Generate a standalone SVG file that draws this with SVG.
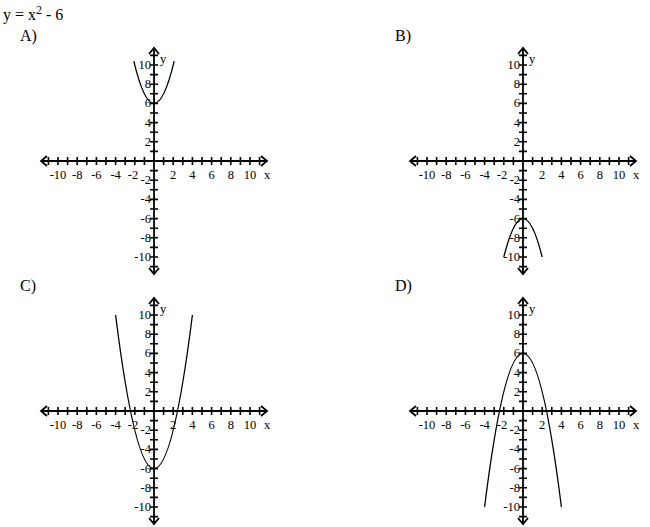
<svg xmlns="http://www.w3.org/2000/svg" xmlns:xlink="http://www.w3.org/1999/xlink" width="650" height="527" viewBox="0 0 650 527">
<style>
text{font-family:"Liberation Serif",serif;fill:#000}
.t{font-size:16px}
.n{font-size:12.5px}
.ax{stroke:#000;stroke-width:1.8;fill:none}
.tk{stroke:#000;stroke-width:1.6;fill:none}
.c{stroke:#000;stroke-width:1.3;fill:none}
</style>
<defs>
<g id="axes">
<path class="ax" d="M-113 0H113M-107 -5L-113 0L-107 5M107 -5L113 0L107 5M0 -113V113M-5 -107L0 -113L5 -107M-5 107L0 113L5 107"/>
<path class="tk" d="M-105.6 -4v8M-96 -4v8M-86.4 -4v8M-76.8 -4v8M-67.2 -4v8M-57.6 -4v8M-48 -4v8M-38.4 -4v8M-28.8 -4v8M-19.2 -4v8M-9.6 -4v8M9.6 -4v8M19.2 -4v8M28.8 -4v8M38.4 -4v8M48 -4v8M57.6 -4v8M67.2 -4v8M76.8 -4v8M86.4 -4v8M96 -4v8M105.6 -4v8M-4 -105.6h8M-4 -96h8M-4 -86.4h8M-4 -76.8h8M-4 -67.2h8M-4 -57.6h8M-4 -48h8M-4 -38.4h8M-4 -28.8h8M-4 -19.2h8M-4 -9.6h8M-4 9.6h8M-4 19.2h8M-4 28.8h8M-4 38.4h8M-4 48h8M-4 57.6h8M-4 67.2h8M-4 76.8h8M-4 86.4h8M-4 96h8M-4 105.6h8"/>
<g class="n" text-anchor="middle">
<text x="-96" y="18">-10</text><text x="-76.8" y="18">-8</text><text x="-57.6" y="18">-6</text><text x="-38.4" y="18">-4</text><text x="-21" y="18">-2</text>
<text x="19.2" y="18">2</text><text x="38.4" y="18">4</text><text x="57.6" y="18">6</text><text x="76.8" y="18">8</text><text x="96" y="18">10</text>
</g>
<g class="n" text-anchor="end">
<text x="-3" y="-92">10</text><text x="-3" y="-72.8">8</text><text x="-3" y="-53.6">6</text><text x="-3" y="-34.4">4</text><text x="-3" y="-15.2">2</text>
<text x="-3" y="23.2">-2</text><text x="-3" y="42.4">-4</text><text x="-3" y="61.6">-6</text><text x="-3" y="80.8">-8</text><text x="-3" y="100">-10</text>
</g>
<text class="n" x="6" y="-98">y</text>
<text class="n" x="110" y="18">x</text>
</g>
</defs>
<text class="t" x="3" y="20">y = x<tspan dy="-6" font-size="12">2</tspan><tspan dy="6"> - 6</tspan></text>
<g id="graphA"><text class="t" x="20" y="41">A)</text><use xlink:href="#axes" transform="translate(154,161)"/></g>
<g id="graphB"><text class="t" x="395" y="41">B)</text><use xlink:href="#axes" transform="translate(523,161)"/></g>
<g id="graphC"><text class="t" x="20" y="291">C)</text><use xlink:href="#axes" transform="translate(154,411)"/></g>
<g id="graphD"><text class="t" x="395" y="291">D)</text><use xlink:href="#axes" transform="translate(523,411)"/></g>
<g id="connectors">
<path class="c" d="M133.8 61.1Q154 145.7 174.2 61.1"/>
<path class="c" d="M503.8 257Q523 180.2 542.2 257"/>
<path class="c" d="M115.6 315Q154 622.2 192.4 315"/>
<path class="c" d="M484.6 507Q523 199.8 561.4 507"/>
</g>
</svg>
